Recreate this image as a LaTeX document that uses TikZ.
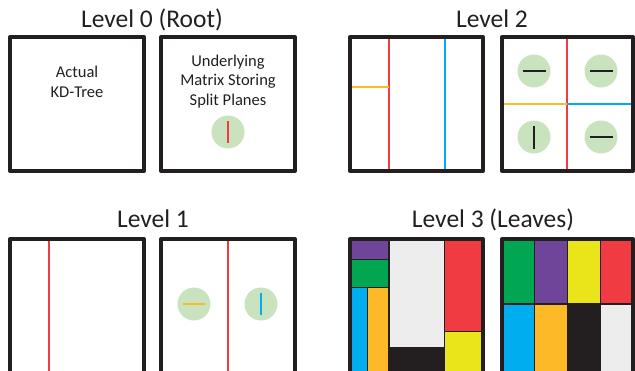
\documentclass[tikz,border=0pt]{standalone}
\usepackage{fontspec}
\setmainfont{Carlito}
\usetikzlibrary{calc}
\definecolor{framec}{HTML}{231F20}
\definecolor{kred}{HTML}{EF3B41}
\definecolor{kblue}{HTML}{00AEEF}
\definecolor{korange}{HTML}{FDB927}
\definecolor{kgreen}{HTML}{00A651}
\definecolor{kpurple}{HTML}{6F4599}
\definecolor{kyellow}{HTML}{EAE51A}
\definecolor{kgray}{HTML}{EDEDED}
\definecolor{kblack}{HTML}{231F20}
\definecolor{circ}{HTML}{C8E3BE}
\begin{document}
\begin{tikzpicture}[x=1pt,y=-1pt,
  frame/.style={draw=framec, line width=4pt, line join=round},
  split/.style={line width=2pt},
  bar/.style={line width=2.6pt},
  dot/.style={circle, fill=circ, minimum size=33pt, inner sep=0pt},
  title/.style={anchor=base, font=\fontsize{25.5}{30}\selectfont, text=framec, inner sep=0pt},
  body/.style={anchor=base, font=\fontsize{16.5}{20}\selectfont, text=framec, inner sep=0pt, align=center},
  cell/.style={draw=framec, line width=1.3pt}]
\useasboundingbox (0,0) rectangle (635,370);
\clip (0,0) rectangle (635,370);

% ---------- titles ----------
\node[title] (t0) at (152,27) {Level 0 (Root)};
\node[title] (t2) at (492,27) {Level 2};
\node[title] (t1) at (153,227) {Level 1};
\node[title] (t3) at (493,227) {Level 3 (Leaves)};

% ---------- Level 0 ----------
\node[body] (a1) at (77,77) {Actual};
\node[body] (a2) at (77,97) {KD-Tree};
\node[body] (u1) at (228,66) {Underlying};
\node[body] (u2) at (228,85) {Matrix Storing};
\node[body] (u3) at (228,105) {Split Planes};
\node[dot] (c0) at (228,132) {};
\draw[bar, kred] ($(c0)+(0,-11)$) -- ($(c0)+(0,11)$);
\draw[frame] (10,37) rectangle (144,171);
\draw[frame] (161,37) rectangle (295,171);

% ---------- Level 2 ----------
\draw[split, kred] (389,37) -- (389,171);
\draw[split, kblue] (445,37) -- (445,171);
\draw[split, korange] (350,87) -- (389,87);
\draw[frame] (350,37) rectangle (483,171);

\draw[split, kred] (567,37) -- (567,171);
\draw[split, korange] (502,104) -- (567,104);
\draw[split, kblue] (567,104) -- (633,104);
\node[dot] (c21) at (534,71) {};
\node[dot] (c22) at (601,71) {};
\node[dot] (c23) at (534,137) {};
\node[dot] (c24) at (601,137) {};
\draw[bar, framec] ($(c21)+(-11.5,0)$) -- ($(c21)+(11.5,0)$);
\draw[bar, framec] ($(c22)+(-11.5,0)$) -- ($(c22)+(11.5,0)$);
\draw[bar, framec] ($(c23)+(0,-11.5)$) -- ($(c23)+(0,11.5)$);
\draw[bar, framec] ($(c24)+(-11.5,0)$) -- ($(c24)+(11.5,0)$);
\draw[frame] (502,37) rectangle (633,171);

% ---------- Level 1 ----------
\draw[split, kred] (49,239) -- (49,373);
\draw[frame] (10,239) rectangle (144,373);

\draw[split, kred] (228,239) -- (228,373);
\node[dot] (c11) at (194,304) {};
\node[dot] (c12) at (261,304) {};
\draw[bar, korange] ($(c11)+(-11,0)$) -- ($(c11)+(11,0)$);
\draw[bar, kblue] ($(c12)+(0,-11)$) -- ($(c12)+(0,11)$);
\draw[frame] (161,239) rectangle (295,373);

% ---------- Level 3 ----------
\fill[framec] (350,239) rectangle (483,373);
\filldraw[cell, fill=kpurple] (350,239) rectangle (389,259.5);
\filldraw[cell, fill=kgreen]  (350,259.5) rectangle (389,287.5);
\filldraw[cell, fill=kblue]   (350,287.5) rectangle (367.5,373);
\filldraw[cell, fill=korange] (367.5,287.5) rectangle (389,373);
\filldraw[cell, fill=kgray]   (389,239) rectangle (444.5,348);
\filldraw[cell, fill=kblack]  (389,348) rectangle (444.5,373);
\filldraw[cell, fill=kred]    (444.5,239) rectangle (483,331.5);
\filldraw[cell, fill=kyellow] (444.5,331.5) rectangle (483,373);
\draw[frame] (350,239) rectangle (483,373);

\filldraw[cell, fill=kgreen]  (502,239) rectangle (534.5,304);
\filldraw[cell, fill=kpurple] (534.5,239) rectangle (567.5,304);
\filldraw[cell, fill=kyellow] (567.5,239) rectangle (600.5,304);
\filldraw[cell, fill=kred]    (600.5,239) rectangle (633,304);
\filldraw[cell, fill=kblue]   (502,304) rectangle (534.5,373);
\filldraw[cell, fill=korange] (534.5,304) rectangle (567.5,373);
\filldraw[cell, fill=kblack]  (567.5,304) rectangle (600.5,373);
\filldraw[cell, fill=kgray]   (600.5,304) rectangle (633,373);
\draw[frame] (502,239) rectangle (633,373);
\end{tikzpicture}
\end{document}
